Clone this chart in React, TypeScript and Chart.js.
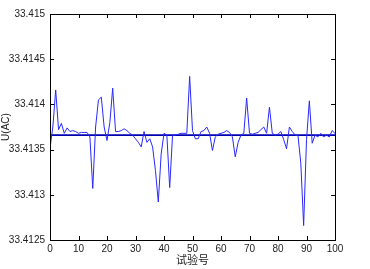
import React, { useEffect, useRef } from "react";
import { Chart, registerables } from "chart.js";

Chart.register(...registerables);

const trialNumbers: number[] = Array.from({ length: 101 }, (_, i) => i);
const measured: number[] = [
  33.41352, 33.41375, 33.41416, 33.41372, 33.41379, 33.41368, 33.41374, 33.4137, 33.41371, 33.4137,
  33.41368, 33.41369, 33.41369, 33.41369, 33.41364, 33.41307, 33.41375, 33.41405, 33.41408, 33.41375,
  33.4136, 33.4138, 33.41418, 33.4137, 33.4137, 33.41371, 33.41373, 33.41371, 33.41368, 33.41366,
  33.41362, 33.41358, 33.41353, 33.4137, 33.41358, 33.41362, 33.41353, 33.41327, 33.41292, 33.41345,
  33.41368, 33.41366, 33.41308, 33.41366, 33.41366, 33.41367, 33.41368, 33.41368, 33.41368, 33.41431,
  33.41371, 33.41362, 33.41362, 33.4137, 33.41371, 33.41375, 33.41368, 33.41349, 33.41364, 33.41367,
  33.41368, 33.41369, 33.41371, 33.41369, 33.41364, 33.41342, 33.41358, 33.41366, 33.41368, 33.41407,
  33.41368, 33.41367, 33.41368, 33.41369, 33.41372, 33.41375, 33.41368, 33.41397, 33.41368, 33.41366,
  33.41367, 33.4137, 33.41361, 33.41351, 33.41375, 33.4137, 33.41366, 33.41366, 33.41335, 33.41266,
  33.41361, 33.41404, 33.41357, 33.41366, 33.41364, 33.41368, 33.41364, 33.41366, 33.41364, 33.41371,
  33.41368,
];
const meanValue = 33.41366;
const xTicks: number[] = [0, 10, 20, 30, 40, 50, 60, 70, 80, 90, 100];
const yTicks: number[] = [33.4125, 33.413, 33.4135, 33.414, 33.4145, 33.415];
const yLabel = "U(AC)";
const xLabel = "试验号";

const inwardTicks = {
  id: "inwardTicks",
  afterDraw(chart: any) {
    const { ctx, chartArea: a, scales } = chart;
    const L = 4;
    ctx.save();
    ctx.strokeStyle = "#000";
    ctx.lineWidth = 1;
    ctx.beginPath();
    for (const v of xTicks) {
      const px = Math.round(scales.x.getPixelForValue(v)) + 0.5;
      ctx.moveTo(px, a.bottom);
      ctx.lineTo(px, a.bottom - L);
      ctx.moveTo(px, a.top);
      ctx.lineTo(px, a.top + L);
    }
    for (const v of yTicks) {
      const py = Math.round(scales.y.getPixelForValue(v)) + 0.5;
      ctx.moveTo(a.left, py);
      ctx.lineTo(a.left + L, py);
      ctx.moveTo(a.right, py);
      ctx.lineTo(a.right - L, py);
    }
    ctx.stroke();
    ctx.lineWidth = 1;
    ctx.strokeRect(Math.round(a.left) + 0.5, Math.round(a.top) + 0.5, Math.round(a.right - a.left), Math.round(a.bottom - a.top));
    ctx.restore();
  },
};

export default function App() {
  const ref = useRef<HTMLCanvasElement | null>(null);
  useEffect(() => {
    document.body.style.margin = "0";
    const canvas = ref.current;
    if (!canvas) return;
    const font = { family: "'Liberation Sans', Arial, sans-serif", size: 10 };
    const chart = new Chart(canvas, {
      type: "line",
      data: {
        datasets: [
          {
            data: trialNumbers.map((x, i) => ({ x, y: measured[i] })),
            borderColor: "rgb(40,40,255)",
            borderWidth: 1,
            pointRadius: 0,
            tension: 0,
          },
          {
            data: [
              { x: xTicks[0], y: meanValue },
              { x: xTicks[xTicks.length - 1], y: meanValue },
            ],
            borderColor: "#0000b0",
            borderWidth: 1.6,
            pointRadius: 0,
          },
        ],
      },
      options: {
        animation: false,
        responsive: false,
        maintainAspectRatio: false,
        layout: { padding: { top: 14, right: 35, left: 0, bottom: 0 } },
        plugins: { legend: { display: false }, tooltip: { enabled: false } },
        scales: {
          x: {
            type: "linear",
            min: 0,
            max: 100,
            afterBuildTicks: (s: any) => {
              s.ticks = xTicks.map((v) => ({ value: v }));
            },
            afterFit: (s: any) => {
              s.height = 29;
            },
            grid: { display: false, drawTicks: false },
            border: { display: false },
            ticks: { color: "#222", font, padding: 3, maxRotation: 0 },
            title: {
              display: true,
              text: xLabel,
              color: "#222",
              font: { family: "'Noto Sans CJK SC', sans-serif", size: 11 },
              padding: { top: 0, bottom: 3 },
            },
          },
          y: {
            type: "linear",
            min: 33.4125,
            max: 33.415,
            afterBuildTicks: (s: any) => {
              s.ticks = yTicks.map((v) => ({ value: v }));
            },
            afterFit: (s: any) => {
              s.width = 50;
            },
            grid: { display: false, drawTicks: false },
            border: { display: false },
            ticks: {
              color: "#222",
              font,
              padding: 5,
              callback: (v: any) => String(Number(Number(v).toFixed(4))),
            },
            title: {
              display: true,
              text: yLabel,
              color: "#222",
              font: { family: "'Liberation Sans', Arial, sans-serif", size: 10 },
              padding: { top: 0, bottom: 0 },
            },
          },
        },
      },
      plugins: [inwardTicks],
    });
    return () => chart.destroy();
  }, []);
  return (
    <div style={{ position: "fixed", left: 0, top: 0, width: 370, height: 269, background: "#fff" }}>
      <canvas ref={ref} width={370} height={269} style={{ width: 370, height: 269 }} />
    </div>
  );
}
